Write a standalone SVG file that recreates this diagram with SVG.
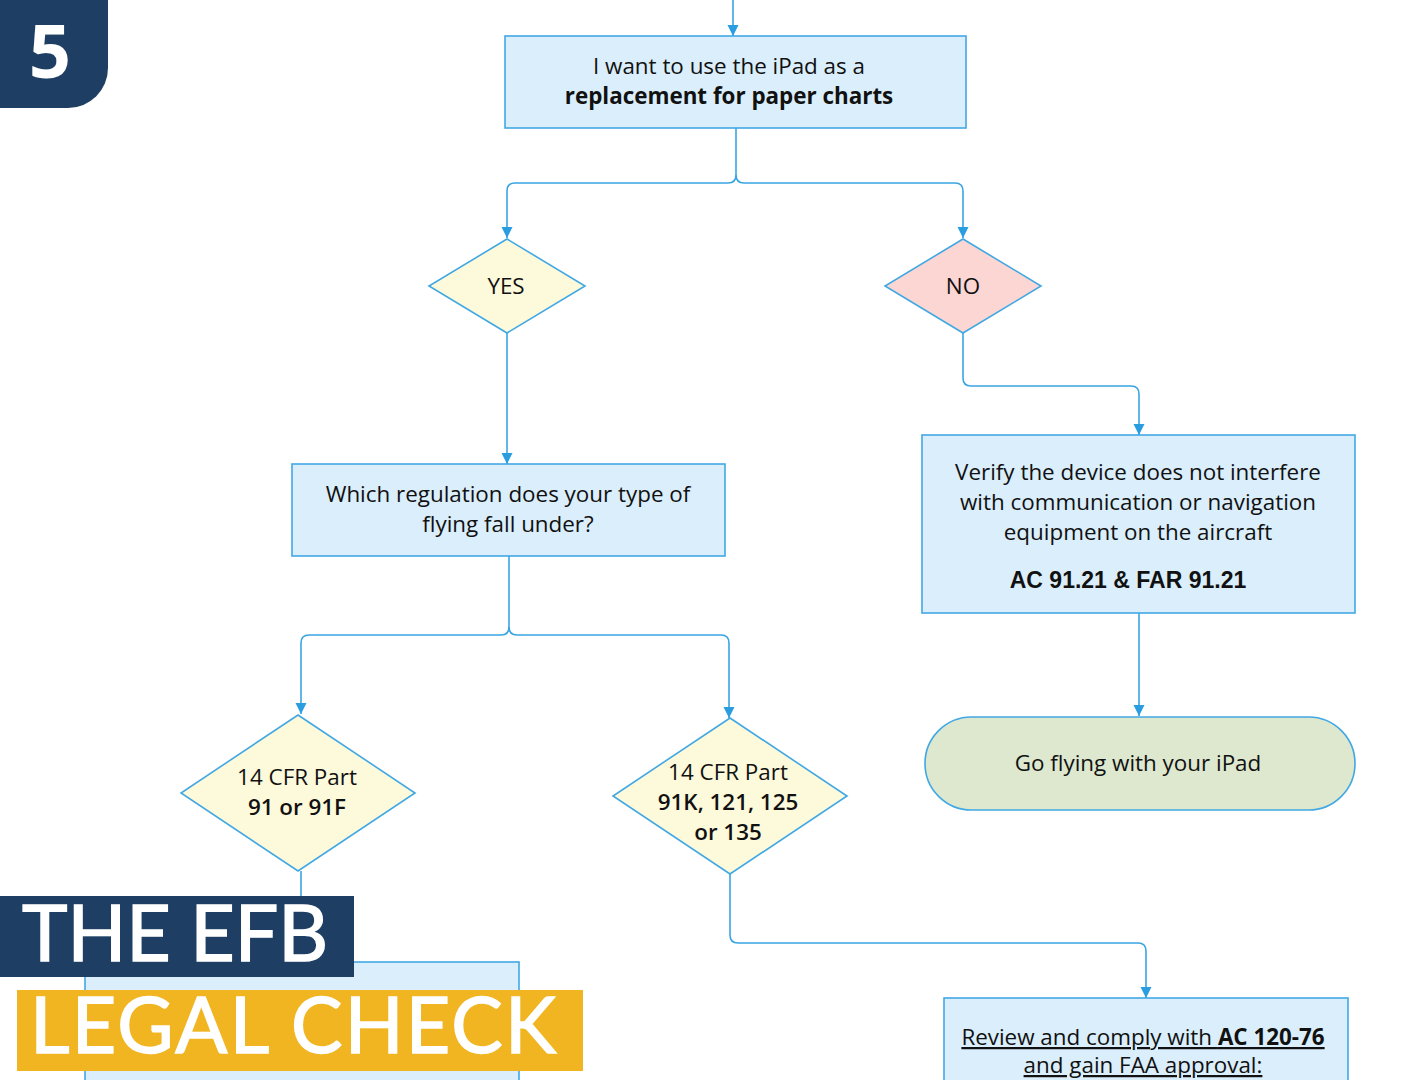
<svg xmlns="http://www.w3.org/2000/svg" width="1425" height="1080" viewBox="0 0 1425 1080">
<defs>
<marker id="arr" markerUnits="userSpaceOnUse" markerWidth="12" markerHeight="12" refX="11" refY="6" orient="auto">
<path d="M0,0.5 L11,6 L0,11.5 Z" fill="#2a9de0"/>
</marker>
<style>
.box{fill:#daeefb;stroke:#41a8e4;stroke-width:1.6}
.yes{fill:#fdf9db;stroke:#41a8e4;stroke-width:1.6}
.no{fill:#fcd6d3;stroke:#41a8e4;stroke-width:1.6}
.go{fill:#dde8cf;stroke:#41a8e4;stroke-width:1.6}
.t{font-family:"Open Sans","Noto Sans",sans-serif;font-size:22.4px;fill:#111;text-anchor:middle}
.b{font-weight:bold}
.sb{font-weight:600}
.ar{font-family:"Liberation Sans",Arial,sans-serif;font-size:23px;font-weight:bold;fill:#111;text-anchor:middle}
.c{fill:none;stroke:#3aa5e3;stroke-width:1.6}
.title{font-family:Lato,"Open Sans",sans-serif;font-weight:normal;fill:#fff;stroke:#fff;stroke-width:1.5}
</style>
</defs>
<rect width="1425" height="1080" fill="#fff"/>

<g id="connectors">
<path class="c" d="M733,0 V36" marker-end="url(#arr)"/>
<path class="c" d="M736,128 V175 Q736,183 728,183 H515 Q507,183 507,191 V238" marker-end="url(#arr)"/>
<path class="c" d="M736,175 Q736,183 744,183 H955 Q963,183 963,191 V238" marker-end="url(#arr)"/>
<path class="c" d="M507,333 V464" marker-end="url(#arr)"/>
<path class="c" d="M963,333 V378 Q963,386 971,386 H1131 Q1139,386 1139,394 V435" marker-end="url(#arr)"/>
<path class="c" d="M1139,613 V716" marker-end="url(#arr)"/>
<path class="c" d="M509,556 V627 Q509,635 501,635 H309 Q301,635 301,643 V714" marker-end="url(#arr)"/>
<path class="c" d="M509,627 Q509,635 517,635 H721 Q729,635 729,643 V718" marker-end="url(#arr)"/>
<path class="c" d="M301,871 V962"/>
<path class="c" d="M730,874 V935 Q730,943 738,943 H1138 Q1146,943 1146,951 V998" marker-end="url(#arr)"/>
</g>

<g id="start">
<rect class="box" x="505" y="36" width="461" height="92"/>
<text class="t" x="729" y="74">I want to use the iPad as a</text>
<text class="t b" x="729" y="104">replacement for paper charts</text>
</g>

<g id="yes">
<polygon class="yes" points="507,239 585,286 507,333 429,286"/>
<text class="t" x="506" y="294">YES</text>
</g>

<g id="no">
<polygon class="no" points="963,239 1041,286 963,333 885,286"/>
<text class="t" x="963" y="294">NO</text>
</g>

<g id="regulation">
<rect class="box" x="292" y="464" width="433" height="92"/>
<text class="t" x="508" y="502">Which regulation does your type of</text>
<text class="t" x="508" y="532">flying fall under?</text>
</g>

<g id="verify">
<rect class="box" x="922" y="435" width="433" height="178"/>
<text class="t" x="1138" y="480">Verify the device does not interfere</text>
<text class="t" x="1138" y="510">with communication or navigation</text>
<text class="t" x="1138" y="540">equipment on the aircraft</text>
<text class="ar" x="1128" y="588">AC 91.21 &amp; FAR 91.21</text>
</g>

<g id="goflying">
<rect class="go" x="925" y="717" width="430" height="93" rx="46.5" ry="46.5"/>
<text class="t" x="1138" y="771">Go flying with your iPad</text>
</g>

<g id="part91">
<polygon class="yes" points="298,715 415,793 298,871 181,793"/>
<text class="t" x="297" y="785">14 CFR Part</text>
<text class="t sb" x="297" y="815">91 or 91F</text>
</g>

<g id="part121">
<polygon class="yes" points="730,718 847,796 730,874 613,796"/>
<text class="t" x="728" y="780">14 CFR Part</text>
<text class="t sb" x="728" y="810">91K, 121, 125</text>
<text class="t sb" x="728" y="840">or 135</text>
</g>

<g id="review">
<rect class="box" x="944" y="998" width="404" height="100"/>
<text class="t" x="1143" y="1045" text-decoration="underline">Review and comply with <tspan class="b">AC 120-76</tspan></text>
<text class="t" x="1143" y="1073" text-decoration="underline">and gain FAA approval:</text>
</g>

<g id="leftbox">
<rect class="box" x="85" y="962" width="434" height="130"/>
</g>

<g id="badge">
<path d="M0,0 H108 V68 A40,40 0 0 1 68,108 H0 Z" fill="#1e3f63"/>
<text x="50" y="78" font-family="'Open Sans',sans-serif" font-weight="bold" font-size="74" fill="#fff" text-anchor="middle">5</text>
</g>

<g id="title">
<rect x="0" y="896" width="354" height="81" fill="#1e3f63"/>
<text class="title" x="22" y="961" font-size="77" textLength="306" lengthAdjust="spacing">THE EFB</text>
<rect x="17" y="990" width="566" height="81" fill="#f0b520"/>
<text class="title" x="30" y="1053" font-size="77" textLength="526" lengthAdjust="spacing">LEGAL CHECK</text>
</g>
</svg>
